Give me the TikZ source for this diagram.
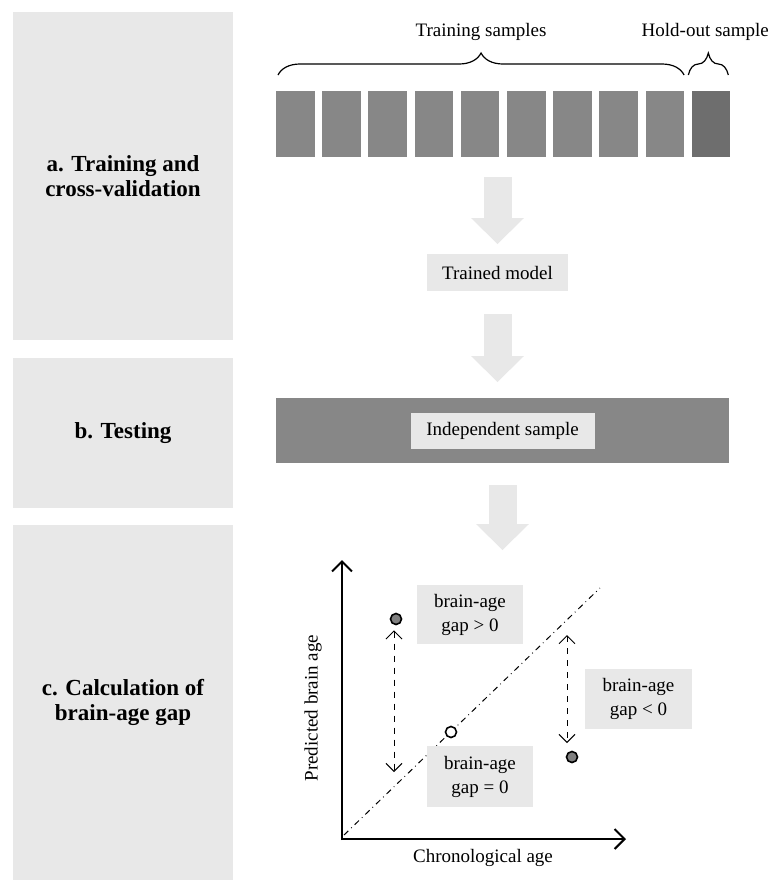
\documentclass[tikz,border=0pt]{standalone}
\usepackage{fontspec}
\setmainfont{Liberation Serif}
\usepackage{tikz}
\usetikzlibrary{positioning,arrows.meta,decorations.pathreplacing}
\definecolor{panelgray}{HTML}{E8E8E8}
\definecolor{blockgray}{HTML}{878787}
\definecolor{holdgray}{HTML}{6E6E6E}
\definecolor{dotgray}{HTML}{808080}

\begin{document}
\begin{tikzpicture}[
        x=0.5pt,y=-0.5pt,
        node distance=3.85pt,
        panel/.style={rectangle,fill=panelgray,inner sep=0pt,outer sep=0pt,minimum width=110pt,align=center,font=\fontsize{11.5}{12.5}\selectfont\bfseries},
        sample/.style={rectangle,fill=blockgray,inner sep=0pt,outer sep=0pt,minimum width=19.25pt,minimum height=33pt},
        tag/.style={rectangle,fill=panelgray,inner sep=0pt,outer sep=0pt,align=center,font=\fontsize{9.5}{12}\selectfont},
        txt/.style={font=\fontsize{9.5}{11}\selectfont,inner sep=1pt},
        bigarrow/.style={line width=14pt,draw=panelgray,-{Triangle[width=26.5pt,length=13pt,line width=0pt]}},
        brace/.style={decorate,decoration={brace,amplitude=11pt},line width=0.6pt},
        axis/.style={line width=1pt,-{Straight Barb[length=5pt,width=10pt]}},
        gaparrow/.style={dashed,line width=0.5pt,{Straight Barb[length=4pt,width=8pt]}-{Straight Barb[length=4pt,width=8pt]}},
        dot/.style={circle,draw,line width=0.8pt,inner sep=0pt,minimum size=5.5pt}]
        \useasboundingbox (0,0) rectangle (770,880);
        % stage panels
        \node[panel,minimum height=164pt] (pa) at (123,176) {a. Training and\\cross-validation};
        \node[panel,minimum height=75pt,below=9pt of pa] (pb) {b. Testing};
        \node[panel,minimum height=177.5pt,below=8.5pt of pb] (pc) {c. Calculation of\\brain-age gap};
        % folds
        \node[sample] (s1) at (295.25,124) {};
        \node[sample,right=of s1] (s2) {};
        \node[sample,right=of s2] (s3) {};
        \node[sample,right=of s3] (s4) {};
        \node[sample,right=of s4] (s5) {};
        \node[sample,right=of s5] (s6) {};
        \node[sample,right=of s6] (s7) {};
        \node[sample,right=of s7] (s8) {};
        \node[sample,right=of s8] (s9) {};
        \node[sample,fill=holdgray,right=of s9] (hold) {};
        \draw[brace] ([xshift=1pt,yshift=8pt]s1.north west) -- ([yshift=8pt]s9.north east) node[txt,midway,above=16pt] (trainlab) {Training samples};
        \draw[brace] ([xshift=-1.75pt,yshift=8pt]hold.north west) -- ([xshift=-1pt,yshift=8pt]hold.north east) node[txt,midway,above=16pt,xshift=-1.5pt] (holdlab) {Hold-out sample};
        \node[tag,minimum width=70.5pt,minimum height=18.5pt] (model) at (497.5,272.5) {Trained model};
        % testing
        \node[rectangle,fill=blockgray,inner sep=0pt,outer sep=0pt,minimum width=226.5pt,minimum height=32.5pt] (testbar) at (502.5,430.5) {};
        \node[tag,minimum width=92pt,minimum height=18pt] (indep) at (testbar) {Independent sample};
        % plot
        \coordinate (o) at (342,839);
        \coordinate (ytop) at (342,560);
        \coordinate (xend) at (626,839);
        \coordinate (d0) at (344,835);
        \coordinate (d1) at (600,588);
        \draw[bigarrow,shorten <=10pt,shorten >=5pt] (s5.south -| model.north) -- (model.north);
        \draw[bigarrow,shorten <=11.5pt,shorten >=8pt] (model.south) -- (model.south |- testbar.north);
        \draw[bigarrow,shorten <=11pt,shorten >=5pt] (testbar.south) -- (testbar.south |- ytop);
        \draw[axis,shorten <=-0.5pt] (o) -- (ytop);
        \draw[axis,shorten <=-0.5pt] (o) -- (xend);
        \node[txt] (xlab) at (483,858) {Chronological age};
        \node[txt,rotate=90] (ylab) at (313,708) {Predicted brain age};
        \draw[dash dot,line width=0.5pt] (d0) -- (d1);
        \node[tag,minimum width=53pt,minimum height=29.5pt] (pos) at (470,614.5) {brain-age\\gap > 0};
        \node[tag,minimum width=53pt,minimum height=30.5pt] (zerotag) at (480,776.5) {brain-age\\gap = 0};
        \node[tag,minimum width=53.5pt,minimum height=30pt] (neg) at (638.5,699) {brain-age\\gap < 0};
        \node[dot,fill=dotgray] (over) at (396,619) {};
        \node[dot,fill=white] (zero) at (451,732) {};
        \node[dot,fill=dotgray] (under) at (572,757) {};
        \coordinate (overend) at (394,772);
        \coordinate (undertop) at (567,635);
        \coordinate (underend) at (567,743);
        \draw[gaparrow] ([xshift=-1pt,yshift=-2.5pt]over.south) -- (overend);
        \draw[gaparrow] (undertop) -- (underend);
    \end{tikzpicture}
\end{document}
